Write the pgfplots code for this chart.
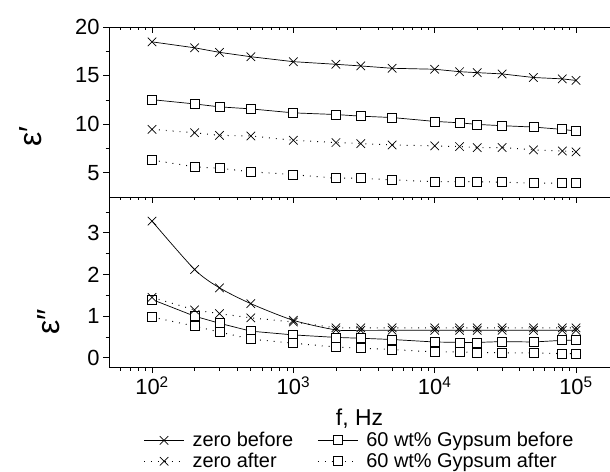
\documentclass[border=0pt]{standalone}
\usepackage{fontspec}
\setmainfont{Liberation Sans}
\usepackage{pgfplots}
\usepackage{pgfplotstable}
\pgfplotsset{compat=1.18}

% real part of the permittivity
\pgfplotstableread{
f      zb     gb     za    ga
100    18.47  12.52  9.46  6.30
200    17.86  12.08  9.12  5.61
300    17.39  11.78  8.85  5.45
500    16.94  11.57  8.78  5.10
1000   16.43  11.16  8.34  4.80
2000   16.16  10.99  8.10  4.43
3000   15.99  10.82  8.00  4.43
5000   15.75  10.68  7.86  4.26
10000  15.65  10.28  7.76  4.08
15000  15.40  10.14  7.69  4.08
20000  15.30  9.97   7.59  4.08
30000  15.17  9.84   7.59  4.02
50000  14.80  9.70   7.35  3.92
80000  14.66  9.46   7.24  3.92
100000 14.50  9.29   7.14  3.92
}\epsreal

% imaginary part of the permittivity
\pgfplotstableread{
f      zb    gb    za    ga
100    3.28  1.40  1.45  0.98
200    2.12  1.00  1.15  0.76
300    1.68  0.83  1.06  0.62
500    1.30  0.64  0.96  0.45
1000   0.90  0.55  0.86  0.35
2000   0.67  0.49  0.72  0.26
3000   0.66  0.47  0.72  0.23
5000   0.66  0.44  0.72  0.20
10000  0.66  0.38  0.72  0.14
15000  0.66  0.37  0.72  0.14
20000  0.66  0.37  0.72  0.13
30000  0.66  0.39  0.72  0.12
50000  0.66  0.38  0.72  0.12
80000  0.66  0.42  0.72  0.10
100000 0.66  0.42  0.72  0.10
}\epsimag

\tikzset{
  bfrline/.style={black, line width=0.7bp, solid},
  aftline/.style={black, line width=1bp, dash pattern=on 0.9bp off 6bp},
  crossmk/.style={mark=x, mark size=6bp, mark options={solid, line width=0.7bp}},
  boxmk/.style={mark=square*, mark size=4.5bp, mark options={solid, draw=black, fill=white, line width=0.8bp}},
}

\pgfplotsset{
  permframe/.style={
    scale only axis, width=501bp, height=170bp,
    xmin=49.6, xmax=174000,
    axis x line=box, axis y line=left, axis line style={-, line width=0.8bp},
    ytick align=outside, ytick pos=left,
    major tick length=6bp, minor tick length=3.5bp,
    every tick/.style={black, line width=0.7bp},
    xtick={100,1000,10000,100000},
    minor xtick={60,70,80,90,200,300,400,500,600,700,800,900,
      2000,3000,4000,5000,6000,7000,8000,9000,
      20000,30000,40000,50000,60000,70000,80000,90000},
    tick label style={font=\fontsize{22}{24}\selectfont},
    clip=false,
  },
}

\begin{document}
\begin{tikzpicture}
\useasboundingbox (0,0) rectangle (610bp,472bp);

% upper panel: eps'
\begin{axis}[xmode=log, permframe,
  /pgf/number format/assume math mode=true,
  at={(109bp,275bp)}, anchor=south west,
  ymin=2.5, ymax=20, ytick={5,10,15,20}, minor ytick={7.5,12.5,17.5},
  xtick pos=top, xtick align=inside, xticklabels={},
  ylabel={ε′},
  ylabel style={font=\fontsize{32}{34}\selectfont, at={(axis description cs:-0.156,0.355)}, anchor=center},
]
\addplot[bfrline, crossmk] table[x=f, y=zb] {\epsreal};
\addplot[bfrline, boxmk] table[x=f, y=gb] {\epsreal};
\addplot[aftline, crossmk] table[x=f, y=za] {\epsreal};
\addplot[aftline, boxmk] table[x=f, y=ga] {\epsreal};
\end{axis}

% ticks along the shared edge
\begin{axis}[xmode=log, permframe,
  at={(109bp,105bp)}, anchor=south west,
  ymin=-0.22, ymax=3.86, ytick=\empty, y axis line style={draw=none},
  xtick pos=top, xtick align=inside, xticklabels={},
]
\addplot[draw=none, forget plot] coordinates {(100,1)};
\end{axis}

% lower panel: eps''
\begin{axis}[xmode=log, permframe,
  /pgf/number format/assume math mode=true,
  at={(109bp,105bp)}, anchor=south west,
  ymin=-0.22, ymax=3.86, ytick={0,1,2,3}, minor ytick={0.5,1.5,2.5,3.5},
  xtick pos=bottom, xtick align=outside,
  xticklabels={10\textsuperscript{2},10\textsuperscript{3},10\textsuperscript{4},10\textsuperscript{5}},
  xlabel={f, Hz},
  xlabel style={font=\fontsize{23}{25}\selectfont, at={(axis description cs:0.5,-0.305)}, anchor=center},
  ylabel={ε″},
  ylabel style={font=\fontsize{32}{34}\selectfont, at={(axis description cs:-0.12,0.265)}, anchor=center},
  legend columns=2,
  legend cell align=left,
  legend image code/.code={\draw[mark repeat=2, mark phase=2, #1] plot coordinates {(0bp,0bp) (20bp,0bp) (40bp,0bp)};},
  legend style={at={(axis description cs:0.5,-0.36)}, anchor=north, draw=none, fill=none,
    font=\fontsize{20}{22}\selectfont, row sep=1bp,
    /tikz/every odd column/.append style={column sep=6bp},
    /tikz/every even column/.append style={column sep=22bp}},
]
\addplot[bfrline, crossmk, smooth, tension=0.45] table[x=f, y=zb] {\epsimag};
\addlegendentry{zero before}
\addplot[bfrline, boxmk] table[x=f, y=gb] {\epsimag};
\addlegendentry{60 wt\% Gypsum before}
\addplot[aftline, crossmk] table[x=f, y=za] {\epsimag};
\addlegendentry{zero after}
\addplot[aftline, boxmk] table[x=f, y=ga] {\epsimag};
\addlegendentry{60 wt\% Gypsum after}
\end{axis}
\end{tikzpicture}
\end{document}
